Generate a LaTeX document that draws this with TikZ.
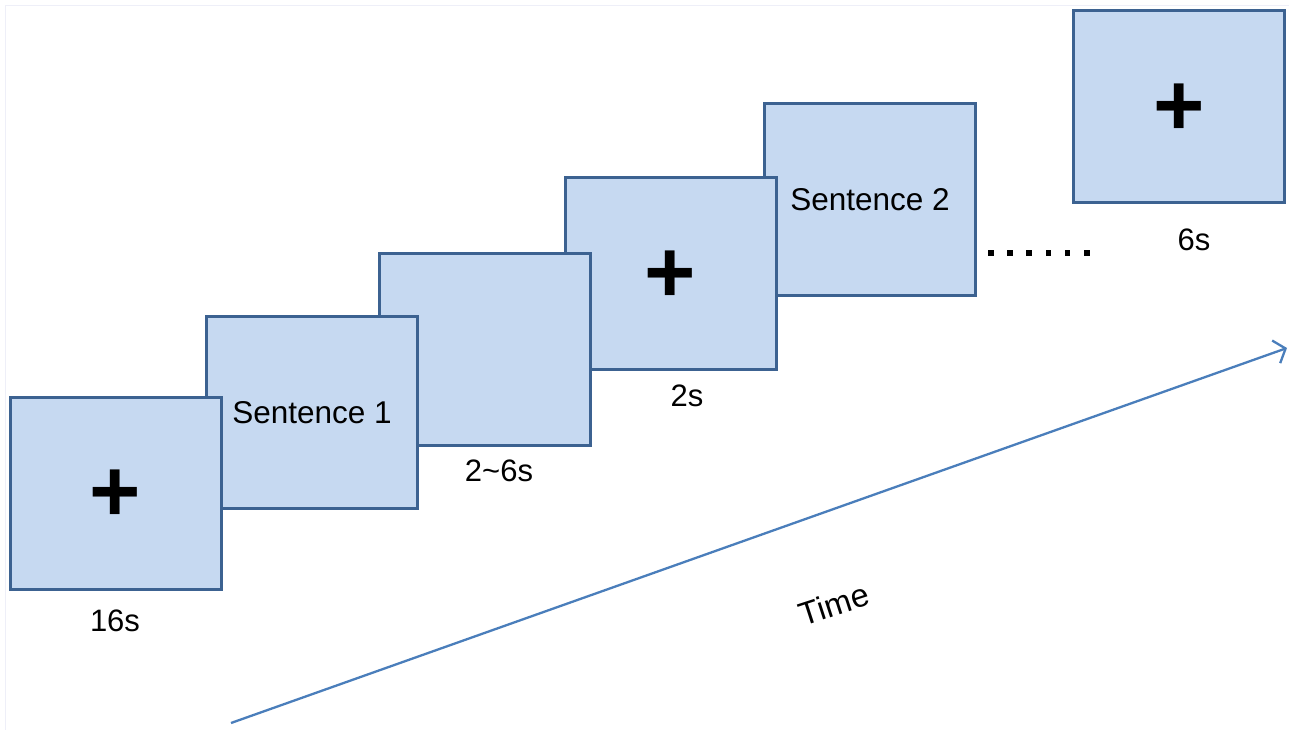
\documentclass[tikz,border=0pt]{standalone}
\usepackage{fontspec}
\setmainfont{Liberation Sans}
\usetikzlibrary{arrows.meta}
\definecolor{boxfill}{HTML}{C6D9F1}
\definecolor{boxline}{HTML}{3C6291}
\definecolor{arrowblue}{HTML}{4A7EBB}
\definecolor{framegray}{HTML}{EEEFF8}
\tikzset{
  screen/.style={draw=boxline, fill=boxfill, line width=3pt, minimum width=211pt, minimum height=192pt, inner sep=0pt, outer sep=0pt},
  crosstext/.style={font=\fontsize{88}{88}\bfseries\selectfont, inner sep=0pt, yshift=-3pt},
  senttext/.style={font=\fontsize{31.5}{36}\selectfont, inner sep=0pt},
  durlabel/.style={font=\fontsize{31}{36}\selectfont, inner sep=0pt},
  timelabel/.style={font=\fontsize{32.5}{36}\selectfont, inner sep=0pt},
  timeline/.style={draw=arrowblue, line width=2.3pt, -{Straight Barb[length=10pt,width=24pt,line width=2.3pt]}},
}
\begin{document}
\begin{tikzpicture}[x=1pt,y=-1pt]
\useasboundingbox (0,0) rectangle (1289,730);
\draw[framegray, line width=1.5pt] (5.5,730) -- (5.5,5.5) -- (1289,5.5);
% screens, back to front
\node[screen] (s6) at (1179,106.5) {};
\node[screen] (s5) at (870,199.5) {};
\node[screen] (s4) at (670.5,273.5) {};
\node[screen] (s3) at (484.5,349.5) {};
\node[screen] (s2) at (312,412.5) {};
\node[screen] (s1) at (115.5,493) {};
% contents
\node[crosstext] (c1) at (s1.center) {+};
\node[senttext] (t2) at (s2.center) {Sentence 1};
\node[crosstext] (c4) at (s4.center) {+};
\node[senttext] (t5) at (s5.center) {Sentence 2};
\node[crosstext] (c6) at (s6.center) {+};
% durations
\node[durlabel] (d1) at (115,621) {16s};
\node[durlabel] (d3) at (499,471) {2\textasciitilde 6s};
\node[durlabel] (d4) at (687,396) {2s};
\node[durlabel] (d6) at (1194,240) {6s};
% continuation dots
\foreach \i in {0,...,5} {
  \fill (988+\i*19.2,250) rectangle ++(5.5,5.5);
}
% time axis
\coordinate (tstart) at (231,723);
\coordinate (tend) at (1287,348);
\draw[timeline] (tstart) -- (tend);
\node[timelabel, rotate=18] (time) at (834,604) {Time};
\end{tikzpicture}
\end{document}
